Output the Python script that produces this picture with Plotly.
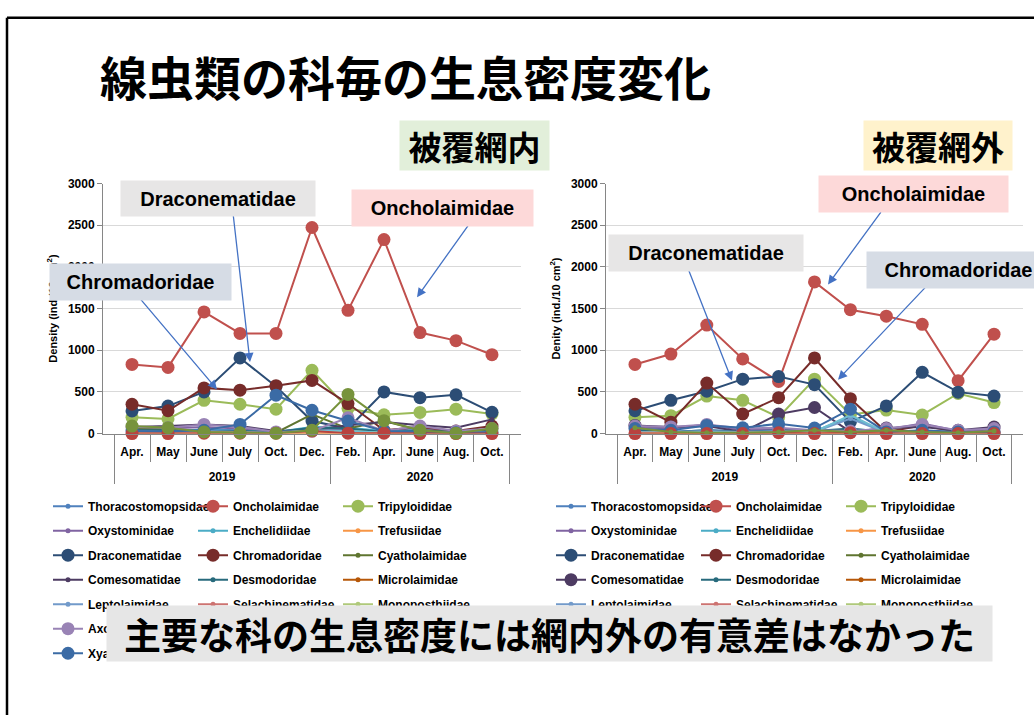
import plotly.graph_objects as go

W, H = 1034, 722


def px(x):
    return x / W


def py(y):
    return 1 - y / H


# ---------------- data ----------------
years = ['2019'] * 6 + ['2020'] * 5
months = ['Apr.', 'May', 'June', 'July', 'Oct.', 'Dec.',
          'Feb.', 'Apr.', 'June', 'Aug.', 'Oct.']

families = [
    'Thoracostomopsidae', 'Oncholaimidae', 'Tripyloididae',
    'Oxystominidae', 'Enchelidiidae', 'Trefusiidae',
    'Draconematidae', 'Chromadoridae', 'Cyatholaimidae',
    'Comesomatidae', 'Desmodoridae', 'Microlaimidae',
    'Leptolaimidae', 'Selachinematidae', 'Monoposthiidae',
    'Axonolaimidae', None, None,
    'Xyalidae', None, None,
]

colors = [
    '#4F81BD', '#C0504D', '#9BBB59',
    '#8064A2', '#4BACC6', '#F79646',
    '#2C4D75', '#772C2A', '#5F7530',
    '#4D3B62', '#276A7C', '#B65708',
    '#729ACA', '#CD7371', '#AFC97A',
    '#9983B5', '#6FBDD1', '#F9AB6B',
    '#3B6BA5', '#B9423F', '#77933C',
]

# density (ind./10 cm2) inside the covering net
net_in = [
    [40, 30, 50, 40, 20, 60, 30, 20, 30, 20, 30],
    [829, 794, 1459, 1201, 1201, 2472, 1478, 2327, 1212, 1115, 946],
    [195, 176, 399, 352, 293, 759, 300, 225, 254, 293, 235],
    [60, 60, 80, 60, 20, 30, 60, 20, 60, 20, 40],
    [30, 30, 40, 30, 20, 80, 70, 30, 40, 20, 30],
    [5, 5, 10, 5, 5, 15, 10, 5, 5, 5, 5],
    [272, 330, 500, 907, 565, 150, 60, 500, 430, 465, 255],
    [352, 274, 548, 520, 575, 638, 360, 40, 80, 30, 90],
    [60, 50, 20, 10, 10, 230, 60, 150, 40, 20, 50],
    [80, 90, 110, 90, 30, 40, 100, 140, 100, 70, 170],
    [40, 40, 30, 30, 20, 70, 60, 20, 30, 20, 30],
    [10, 10, 10, 10, 5, 10, 10, 5, 10, 5, 10],
    [30, 20, 30, 20, 10, 30, 20, 10, 20, 10, 20],
    [10, 10, 20, 10, 5, 20, 10, 10, 10, 5, 10],
    [20, 20, 10, 10, 5, 20, 30, 10, 20, 5, 20],
    [80, 70, 110, 80, 20, 30, 190, 30, 90, 30, 60],
    [10, 10, 10, 10, 5, 40, 30, 10, 10, 5, 10],
    [5, 5, 5, 5, 5, 10, 5, 5, 5, 5, 5],
    [30, 25, 40, 110, 460, 280, 150, 30, 20, 10, 20],
    [0, 0, 5, 5, 5, 30, 5, 5, 0, 0, 0],
    [90, 70, 20, 10, 5, 40, 470, 155, 40, 5, 60],
]

# density (ind./10 cm2) outside the covering net
net_out = [
    [30, 20, 40, 30, 40, 30, 40, 20, 30, 20, 20],
    [829, 954, 1302, 896, 626, 1819, 1486, 1408, 1310, 634, 1193],
    [196, 215, 450, 399, 196, 653, 230, 282, 223, 481, 372],
    [80, 60, 110, 40, 60, 30, 30, 50, 120, 30, 50],
    [20, 10, 30, 10, 20, 30, 200, 10, 20, 10, 10],
    [5, 5, 5, 5, 5, 5, 5, 5, 5, 5, 5],
    [274, 399, 508, 653, 684, 587, 140, 332, 735, 497, 450],
    [352, 137, 606, 235, 430, 907, 418, 20, 98, 20, 20],
    [30, 10, 10, 10, 20, 40, 20, 30, 20, 10, 20],
    [98, 78, 90, 20, 235, 313, 20, 66, 78, 39, 78],
    [40, 20, 40, 20, 40, 30, 60, 20, 30, 10, 20],
    [5, 5, 5, 5, 5, 10, 30, 5, 5, 5, 5],
    [20, 20, 30, 20, 30, 20, 180, 10, 20, 10, 10],
    [10, 10, 10, 5, 10, 10, 10, 10, 10, 5, 10],
    [10, 10, 10, 10, 10, 20, 10, 10, 10, 5, 10],
    [90, 80, 110, 60, 70, 40, 30, 60, 110, 40, 60],
    [10, 10, 20, 10, 10, 20, 220, 10, 10, 5, 10],
    [5, 5, 5, 5, 5, 5, 10, 5, 5, 5, 5],
    [60, 40, 98, 70, 117, 66, 293, 20, 40, 20, 20],
    [0, 0, 0, 0, 10, 0, 10, 0, 0, 0, 0],
    [70, 20, 10, 10, 20, 40, 20, 40, 20, 10, 30],
]

big_left = {1, 2, 6, 7, 15, 18, 19, 20}
big_right = {1, 2, 6, 7, 9, 15, 18, 19}

LAT = 'Liberation Sans'
CJK = 'Noto Sans CJK JP'

# category labels: keep repeated month names distinct per year (zero-width space)
# and add an empty second line so the year row sits lower like the original
seen = {}
month_cats = []
for y, m in zip(years, months):
    n = seen.get(m, 0)
    seen[m] = n + 1
    month_cats.append(m + '\u200b' * n + '<br>\u00a0')

fig = go.Figure()

legend_rows_y = [509, 534, 559, 584, 609, 634, 659]

for side, data, big, xa, ya, leg_off in [
    ('L', net_in, big_left, 'x', 'y', 0),
    ('R', net_out, big_right, 'x2', 'y2', 7),
]:
    for i, vals in enumerate(data):
        name = families[i]
        row = i // 3
        leg_id = 'legend' if (row + leg_off) == 0 else f'legend{row + leg_off + 1}'
        fig.add_trace(go.Scatter(
            x=[years, month_cats], y=vals,
            xaxis=xa, yaxis=ya,
            mode='lines+markers',
            name=name if name else '',
            showlegend=name is not None,
            legend=leg_id,
            line=dict(color=colors[i], width=2),
            marker=dict(color=colors[i], size=13 if i in big else 5, line=dict(width=0)),
            cliponaxis=False,
        ))

axis_font = dict(family=LAT, size=12, color='#000000', weight='bold')

common_x = dict(
    type='multicategory', showline=True, linecolor='#868686', linewidth=1,
    ticks='outside', tickson='boundaries', ticklen=27, tickcolor='#868686',
    showdividers=True, dividercolor='#868686', dividerwidth=1, tickangle=0,
    ticklabelstandoff=7,
    tickfont=axis_font, showgrid=False, zeroline=False,
)
common_y = dict(
    range=[0, 3000], dtick=500, showline=True, linecolor='#868686', linewidth=1,
    ticks='outside', ticklen=5, tickcolor='#868686', showgrid=True,
    gridcolor='#D9D9D9', gridwidth=1, zeroline=False, tickfont=axis_font,
)

layout = dict(
    width=W, height=H,
    margin=dict(l=0, r=0, t=0, b=0),
    paper_bgcolor='white', plot_bgcolor='white',
    xaxis=dict(domain=[px(103), px(521)], anchor='y', **common_x),
    yaxis=dict(domain=[py(435), py(180)], anchor='x',
               title=dict(text='Density (ind./10 cm<sup>2</sup>)',
                          font=dict(family=LAT, size=11, color='#000', weight='bold'), standoff=8),
               **common_y),
    xaxis2=dict(domain=[px(606), px(1023)], anchor='y2', **common_x),
    yaxis2=dict(domain=[py(435), py(180)], anchor='x2',
                title=dict(text='Denity (ind./10 cm<sup>2</sup>)',
                           font=dict(family=LAT, size=11, color='#000', weight='bold'), standoff=8),
                **common_y),
    showlegend=True,
)

for k in range(14):
    lid = 'legend' if k == 0 else f'legend{k + 1}'
    row = k % 7
    xleft = 48 if k < 7 else 551
    layout[lid] = dict(
        orientation='h', x=px(xleft), xanchor='left',
        y=py(legend_rows_y[row]), yanchor='middle',
        entrywidth=100, entrywidthmode='pixels', itemsizing='trace',
        font=dict(family=LAT, size=12, color='#000', weight='bold'),
        bgcolor='rgba(0,0,0,0)', borderwidth=0, tracegroupgap=0,
    )

fig.update_layout(layout)

annotations = []


def box(text, x0, y0, x1, y1, bg, size, family=LAT):
    annotations.append(dict(
        text=text, xref='paper', yref='paper',
        x=px((x0 + x1) / 2), y=py((y0 + y1) / 2),
        xanchor='center', yanchor='middle', showarrow=False,
        width=x1 - x0, height=y1 - y0, bgcolor=bg, borderpad=0,
        font=dict(family=family, size=size, color='#000', weight='bold'),
    ))


def arrow(tx, ty, hx, hy):
    annotations.append(dict(
        text='', xref='paper', yref='paper', x=px(hx), y=py(hy),
        ax=tx - hx, ay=ty - hy, showarrow=True,
        arrowhead=2, arrowsize=1.4, arrowwidth=1.3, arrowcolor='#4472C4',
    ))


# title
annotations.append(dict(
    text='線虫類の科毎の生息密度変化', xref='paper', yref='paper',
    x=px(98), y=py(70), xanchor='left', yanchor='middle', showarrow=False,
    font=dict(family=CJK, size=47, color='#000', weight='bold'),
))

box('被覆網内', 400, 117, 549, 166, '#E2EFDA', 33, CJK)
box('被覆網外', 864, 117, 1012, 166, '#FFF2CC', 33, CJK)

# left callouts
arrow(233, 213, 250, 362)
arrow(469, 223, 417, 296)
arrow(139, 298, 217, 390)
box('Draconematidae', 121, 178, 315, 213, '#E7E6E6', 20)
box('Oncholaimidae', 352, 187, 533, 223, '#FDD9D9', 20)
box('Chromadoridae', 50, 262, 231, 298, '#D6DCE5', 20)

# right callouts
arrow(882, 209, 828, 283)
arrow(688, 269, 732, 381)
arrow(927, 286, 838, 380)
box('Oncholaimidae', 819, 173, 1008, 209, '#FDD9D9', 20)
box('Draconematidae', 609, 233, 803, 269, '#E7E6E6', 20)
box('Chromadoridae', 867, 250, 1050, 286, '#D6DCE5', 20)

# conclusion
box('主要な科の生息密度には網内外の有意差はなかった', 107, 611, 992, 666, '#E6E6E6', 37, CJK)

fig.update_layout(annotations=annotations)

fig.update_layout(shapes=[
    dict(type='line', xref='paper', yref='paper', x0=px(7), y0=py(11), x1=1.0, y1=py(11),
         line=dict(color='#000', width=2.5)),
    dict(type='line', xref='paper', yref='paper', x0=px(7), y0=py(11), x1=px(7), y1=0,
         line=dict(color='#000', width=2.5)),
])

fig.write_html('out.html')
